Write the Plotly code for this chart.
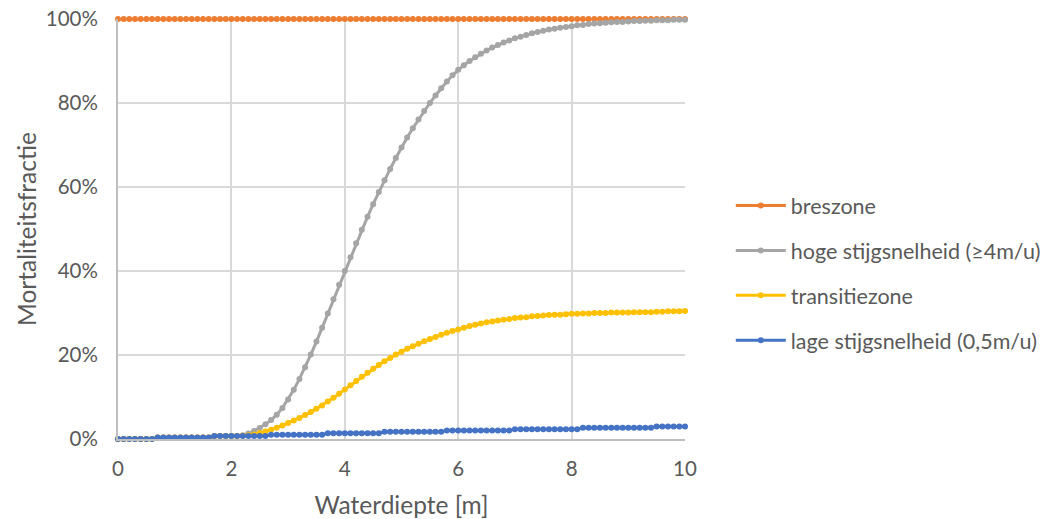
import numpy as np
import plotly.graph_objects as go

# Water depth [m], 0 to 10 in steps of 0.1
depth = [round(i * 0.1, 1) for i in range(101)]

# Mortality fraction per zone [%]
breszone = [100.0] * 101

hoge = [
    0.0, 0.0, 0.0, 0.0, 0.0, 0.0, 0.0, 0.35, 0.35, 0.35,
    0.35, 0.35, 0.35, 0.35, 0.35, 0.35, 0.35, 0.7, 0.7, 0.7,
    0.7, 0.7, 0.9, 1.3, 1.9, 2.6, 3.5, 4.5, 5.8, 7.4,
    9.4, 11.7, 14.3, 17.1, 20.1, 23.2, 26.5, 29.9, 33.3, 36.7,
    40.0, 43.3, 46.6, 49.8, 52.9, 55.9, 58.8, 61.6, 64.3, 66.9,
    69.4, 71.8, 74.0, 76.1, 78.1, 80.0, 81.8, 83.5, 85.1, 86.6,
    87.9, 89.0, 90.0, 90.9, 91.7, 92.5, 93.2, 93.8, 94.4, 94.9,
    95.4, 95.8, 96.2, 96.6, 96.9, 97.2, 97.5, 97.7, 97.9, 98.1,
    98.3, 98.5, 98.6, 98.8, 98.9, 99.0, 99.1, 99.2, 99.3, 99.3,
    99.4, 99.5, 99.5, 99.6, 99.6, 99.7, 99.7, 99.7, 99.8, 99.8,
    99.8,
]

transitie = [
    0.0, 0.0, 0.0, 0.0, 0.0, 0.0, 0.0, 0.35, 0.35, 0.35,
    0.35, 0.35, 0.35, 0.35, 0.35, 0.35, 0.35, 0.7, 0.7, 0.7,
    0.7, 0.7, 0.75, 0.9, 1.1, 1.4, 1.8, 2.2, 2.7, 3.2,
    3.8, 4.4, 5.0, 5.7, 6.4, 7.2, 8.0, 8.9, 9.8, 10.8,
    11.8, 12.8, 13.8, 14.8, 15.8, 16.7, 17.6, 18.5, 19.3, 20.1,
    20.8, 21.5, 22.1, 22.7, 23.3, 23.8, 24.3, 24.8, 25.3, 25.7,
    26.1, 26.5, 26.9, 27.2, 27.5, 27.8, 28.0, 28.2, 28.4, 28.6,
    28.8, 28.9, 29.0, 29.2, 29.3, 29.4, 29.5, 29.6, 29.6, 29.7,
    29.8, 29.8, 29.9, 29.9, 30.0, 30.0, 30.0, 30.1, 30.1, 30.1,
    30.1, 30.2, 30.2, 30.2, 30.2, 30.3, 30.3, 30.4, 30.4, 30.4,
    30.5,
]

lage = [
    0.0, 0.0, 0.0, 0.0, 0.0, 0.0, 0.0, 0.35, 0.35, 0.35,
    0.35, 0.35, 0.35, 0.35, 0.35, 0.35, 0.35, 0.7, 0.7, 0.7,
    0.7, 0.7, 0.7, 0.7, 0.7, 0.7, 0.7, 1.0, 1.0, 1.0,
    1.0, 1.0, 1.0, 1.0, 1.0, 1.0, 1.0, 1.35, 1.35, 1.35,
    1.35, 1.35, 1.35, 1.35, 1.35, 1.35, 1.35, 1.7, 1.7, 1.7,
    1.7, 1.7, 1.7, 1.7, 1.7, 1.7, 1.7, 1.7, 2.0, 2.0,
    2.0, 2.0, 2.0, 2.0, 2.0, 2.0, 2.0, 2.0, 2.0, 2.0,
    2.35, 2.35, 2.35, 2.35, 2.35, 2.35, 2.35, 2.35, 2.35, 2.35,
    2.35, 2.35, 2.7, 2.7, 2.7, 2.7, 2.7, 2.7, 2.7, 2.7,
    2.7, 2.7, 2.7, 2.7, 2.7, 3.0, 3.0, 3.0, 3.0, 3.0,
    3.0,
]

series = [
    ("breszone", breszone, "#ED7D31"),
    ("hoge stijgsnelheid (≥4m/u)", hoge, "#A5A5A5"),
    ("transitiezone", transitie, "#FFC000"),
    ("lage stijgsnelheid (0,5m/u)", lage, "#4472C4"),
]

x_ticks = [0, 2, 4, 6, 8, 10]
y_ticks = [0, 20, 40, 60, 80, 100]
y_tick_labels = ["0%", "20%", "40%", "60%", "80%", "100%"]

FONT = "Lato, 'Open Sans', sans-serif"
TXT = "#595959"

fig = go.Figure()
for i, (name, vals, col) in enumerate(series):
    fig.add_trace(go.Scatter(
        x=depth, y=vals, name=name, mode="lines+markers",
        line=dict(color=col, width=3),
        marker=dict(color=col, size=6, symbol="circle"),
        legendgroup=f"g{i}",
        cliponaxis=False,
    ))

fig.update_layout(
    width=1050, height=519,
    margin=dict(l=118, r=365, t=19, b=80, autoexpand=False),
    paper_bgcolor="white", plot_bgcolor="white",
    font=dict(family=FONT, size=20.5, color=TXT),
    showlegend=True,
    legend=dict(
        xref="container", yref="container",
        x=0.696, xanchor="left", y=0.474, yanchor="middle",
        traceorder="grouped", tracegroupgap=14,
        font=dict(family=FONT, size=21.5, color=TXT),
        itemwidth=50,
    ),
    xaxis=dict(
        range=[0, 10], tickvals=x_ticks, ticktext=[str(v) for v in x_ticks],
        showgrid=True, gridcolor="#D9D9D9", gridwidth=2,
        zeroline=False, showline=True, linecolor="#BFBFBF", linewidth=2,
        ticks="", ticklabelstandoff=10, automargin=False,
        title=dict(text="Waterdiepte [m]", font=dict(size=24.5, color=TXT), standoff=19),
    ),
    yaxis=dict(
        range=[0, 100], tickvals=y_ticks, ticktext=y_tick_labels,
        showgrid=True, gridcolor="#D9D9D9", gridwidth=2,
        zeroline=False, showline=True, linecolor="#BFBFBF", linewidth=2,
        ticks="", ticklabelstandoff=14, automargin=False,
        title=dict(text="Mortaliteitsfractie", font=dict(size=24.5, color=TXT), standoff=2),
    ),
)

fig.write_html("out.html")
